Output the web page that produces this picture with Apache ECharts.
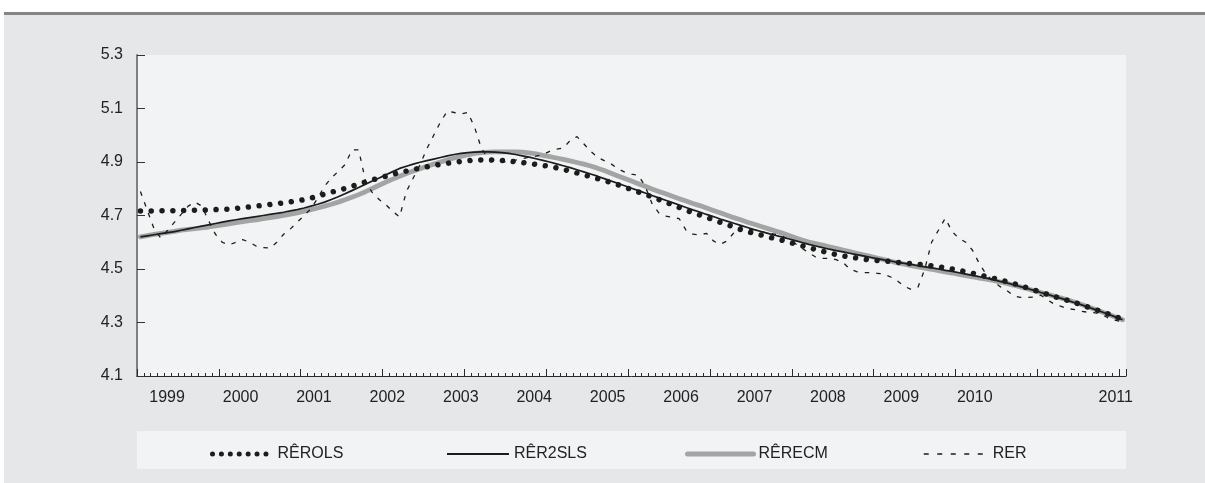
<!DOCTYPE html>
<html><head><meta charset="utf-8">
<script src="https://cdn.jsdelivr.net/npm/echarts@6/dist/echarts.min.js"></script>
<style>
html,body{margin:0;padding:0;background:#fff;}
#wrap{position:relative;width:1205px;height:483px;overflow:hidden;}
#rule{position:absolute;left:4px;top:12px;width:1201px;height:3px;background:#858585;}
#panel{position:absolute;left:4px;top:15px;width:1201px;height:468px;background:#e6e7e9;}
#legbox{position:absolute;left:137px;top:431px;width:989px;height:38px;background:#f2f3f5;}
#c{position:absolute;left:0;top:0;width:1205px;height:483px;}
</style>
</head><body>
<div id="wrap"><div id="rule"></div><div id="panel"></div><div id="legbox"></div><div id="c"></div></div>
<script>
// monthly observations, Jan 1999 .. Jan 2011
const firstYear = 1999;
const nObs = 145;
const months = [];
for (let k = 0; k < nObs; k++) {
  const y = firstYear + Math.floor(k / 12);
  const m = (k % 12) + 1;
  months.push(y + '-' + (m < 10 ? '0' + m : '' + m));
}
// year tick labels and where they sit on the (year) label scale
const yearLabels = ['1999','2000','2001','2002','2003','2004','2005','2006','2007','2008','2009','2010','2011'];
const yearLabelAt = [1999,2000,2001,2002,2003,2004,2005,2006,2007,2008,2009,2010,2011.92];
const yTickValues = [4.1, 4.3, 4.5, 4.7, 4.9, 5.1, 5.3];

const rerOLS = [
4.717,4.717,4.717,4.718,4.718,4.718,4.719,4.719,4.720,4.720,
4.721,4.722,4.723,4.724,4.727,4.729,4.732,4.735,4.738,4.741,
4.744,4.747,4.751,4.755,4.759,4.765,4.772,4.780,4.787,4.794,
4.801,4.809,4.817,4.825,4.833,4.840,4.847,4.854,4.860,4.866,
4.872,4.877,4.882,4.887,4.891,4.895,4.899,4.902,4.905,4.907,
4.908,4.908,4.907,4.906,4.904,4.901,4.898,4.895,4.891,4.887,
4.884,4.878,4.872,4.866,4.859,4.852,4.845,4.838,4.831,4.823,
4.815,4.806,4.797,4.788,4.779,4.770,4.760,4.750,4.740,4.730,
4.720,4.711,4.702,4.693,4.684,4.675,4.666,4.657,4.648,4.640,
4.633,4.627,4.620,4.614,4.608,4.601,4.594,4.587,4.580,4.573,
4.566,4.560,4.554,4.549,4.545,4.541,4.537,4.534,4.532,4.530,
4.528,4.525,4.522,4.520,4.518,4.515,4.512,4.509,4.504,4.500,
4.495,4.490,4.484,4.478,4.472,4.466,4.460,4.453,4.446,4.438,
4.430,4.422,4.413,4.405,4.397,4.390,4.382,4.374,4.366,4.357,
4.349,4.340,4.331,4.322,4.312];

const rer2SLS = [
4.620,4.624,4.628,4.632,4.636,4.640,4.645,4.650,4.655,4.660,
4.665,4.670,4.675,4.680,4.684,4.688,4.692,4.696,4.700,4.704,
4.708,4.712,4.717,4.722,4.728,4.735,4.742,4.750,4.760,4.770,
4.781,4.793,4.805,4.817,4.829,4.840,4.852,4.864,4.876,4.884,
4.892,4.899,4.905,4.911,4.917,4.923,4.928,4.932,4.935,4.937,
4.938,4.938,4.937,4.935,4.932,4.928,4.923,4.918,4.912,4.906,
4.900,4.893,4.886,4.879,4.871,4.863,4.855,4.847,4.838,4.829,
4.820,4.811,4.802,4.793,4.784,4.775,4.766,4.757,4.748,4.739,
4.730,4.721,4.713,4.704,4.696,4.687,4.679,4.671,4.663,4.655,
4.647,4.640,4.633,4.626,4.620,4.613,4.606,4.599,4.592,4.586,
4.580,4.574,4.569,4.564,4.559,4.554,4.549,4.544,4.539,4.534,
4.530,4.525,4.521,4.517,4.512,4.508,4.504,4.500,4.495,4.491,
4.486,4.481,4.476,4.471,4.466,4.460,4.454,4.448,4.441,4.434,
4.427,4.420,4.412,4.405,4.397,4.390,4.382,4.374,4.366,4.357,
4.348,4.339,4.330,4.320,4.310];

const rerECM = [
4.620,4.625,4.629,4.633,4.637,4.641,4.645,4.648,4.651,4.654,
4.657,4.661,4.665,4.669,4.673,4.677,4.681,4.684,4.688,4.692,
4.696,4.700,4.705,4.710,4.716,4.722,4.728,4.735,4.742,4.750,
4.759,4.768,4.778,4.789,4.801,4.813,4.825,4.836,4.847,4.857,
4.866,4.875,4.884,4.892,4.900,4.908,4.915,4.921,4.927,4.932,
4.935,4.937,4.938,4.938,4.938,4.938,4.937,4.934,4.930,4.925,
4.920,4.915,4.910,4.904,4.898,4.892,4.885,4.877,4.868,4.858,
4.848,4.838,4.829,4.819,4.809,4.799,4.790,4.781,4.772,4.763,
4.754,4.745,4.737,4.728,4.719,4.710,4.701,4.692,4.684,4.675,
4.667,4.659,4.651,4.643,4.635,4.626,4.617,4.608,4.601,4.595,
4.589,4.583,4.577,4.571,4.565,4.559,4.553,4.547,4.541,4.535,
4.529,4.523,4.518,4.513,4.508,4.503,4.499,4.494,4.489,4.485,
4.480,4.475,4.471,4.466,4.462,4.457,4.452,4.446,4.440,4.433,
4.426,4.419,4.412,4.405,4.398,4.391,4.384,4.376,4.367,4.358,
4.349,4.339,4.330,4.320,4.310];

const rerActual = [
4.790,4.720,4.650,4.615,4.645,4.675,4.705,4.735,4.750,4.735,
4.680,4.630,4.600,4.590,4.600,4.610,4.600,4.585,4.580,4.578,
4.600,4.630,4.650,4.675,4.700,4.725,4.765,4.810,4.840,4.865,
4.890,4.945,4.945,4.830,4.785,4.760,4.740,4.715,4.695,4.790,
4.840,4.890,4.950,5.000,5.050,5.090,5.085,5.080,5.085,5.030,
4.950,4.915,4.905,4.900,4.902,4.907,4.912,4.918,4.922,4.928,
4.940,4.948,4.952,4.980,4.995,4.968,4.940,4.918,4.905,4.893,
4.875,4.862,4.855,4.850,4.810,4.745,4.710,4.698,4.693,4.688,
4.645,4.630,4.628,4.633,4.605,4.592,4.605,4.635,4.660,4.650,
4.645,4.640,4.635,4.630,4.625,4.610,4.595,4.578,4.560,4.545,
4.540,4.540,4.535,4.525,4.500,4.490,4.487,4.486,4.484,4.481,
4.470,4.455,4.435,4.424,4.432,4.500,4.600,4.645,4.690,4.640,
4.615,4.600,4.570,4.520,4.480,4.455,4.435,4.420,4.400,4.394,
4.394,4.395,4.402,4.385,4.368,4.360,4.352,4.348,4.342,4.338,
4.336,4.330,4.315,4.308,4.303];

const FONT = '"Liberation Sans", Arial, sans-serif';
const INK = '#1c1c1c';
const GREY = '#a4a4a4';

const chart = echarts.init(document.getElementById('c'), null, {renderer: 'canvas'});

function legendAt(name, left, width, lineStyle) {
  return {
    data: [name], left: left, top: 441, itemWidth: width, itemHeight: 14,
    selectedMode: false,
    itemStyle: {opacity: 0},
    lineStyle: lineStyle,
    textStyle: {fontFamily: FONT, fontSize: 16, color: '#222'}
  };
}

chart.setOption({
  backgroundColor: 'transparent',
  animation: false,
  grid: {left: 137, right: 79, top: 55, bottom: 107, show: true,
         backgroundColor: '#f2f3f5', borderWidth: 0},
  legend: [
    legendAt('RÊROLS', 205, 60, {color: INK, width: 5, type: [0.01, 8.9], cap: 'round'}),
    legendAt('RÊR2SLS', 441, 62, {color: INK, width: 2, type: 'solid'}),
    legendAt('RÊRECM', 680, 66, {color: GREY, width: 5, type: 'solid', cap: 'round'}),
    legendAt('RER', 918, 64, {color: INK, width: 1.5, type: [5, 8.5]})
  ],
  xAxis: [{
    type: 'category', data: months, boundaryGap: true,
    axisLine: {lineStyle: {color: '#2a2a2a', width: 1}},
    axisTick: {show: true, interval: 0, inside: true, length: 3,
               lineStyle: {color: '#2a2a2a', width: 1}},
    axisLabel: {show: false},
    splitLine: {show: false}
  }, {
    type: 'category', data: months, boundaryGap: true, position: 'bottom',
    axisLine: {show: false},
    axisTick: {show: true, interval: (i, v) => v.slice(5) === '01', inside: true, length: 7,
               lineStyle: {color: '#2a2a2a', width: 1}},
    axisLabel: {show: false},
    splitLine: {show: false}
  }, {
    type: 'value', min: 1998.59, max: 2012.06, position: 'bottom',
    axisLine: {show: false}, axisTick: {show: false}, splitLine: {show: false},
    axisLabel: {
      customValues: yearLabelAt,
      formatter: v => yearLabels[yearLabelAt.indexOf(v)] || '',
      margin: 14, fontFamily: FONT, fontSize: 16, color: '#222'
    }
  }],
  yAxis: {
    type: 'value', min: 4.1, max: 5.3,
    axisLine: {show: true, lineStyle: {color: '#808080', width: 2}},
    axisTick: {show: true, inside: true, length: 8, customValues: yTickValues,
               lineStyle: {color: '#333', width: 1}},
    axisLabel: {customValues: yTickValues, formatter: v => v.toFixed(1),
                margin: 14, fontFamily: FONT, fontSize: 16, color: '#222'},
    splitLine: {show: false}
  },
  series: [{
    name: 'RÊROLS', type: 'line', data: rerOLS, symbol: 'none', z: 4,
    lineStyle: {color: INK, width: 5.5, type: [0.01, 10.8], cap: 'round'},
    itemStyle: {color: INK}
  }, {
    name: 'RÊR2SLS', type: 'line', data: rer2SLS, symbol: 'none', z: 3,
    lineStyle: {color: INK, width: 1.7},
    itemStyle: {color: INK}
  }, {
    name: 'RÊRECM', type: 'line', data: rerECM, symbol: 'none', z: 2,
    lineStyle: {color: GREY, width: 4.8, cap: 'round'},
    itemStyle: {color: GREY}
  }, {
    name: 'RER', type: 'line', data: rerActual, symbol: 'none', z: 5,
    lineStyle: {color: INK, width: 1.3, type: [4.5, 7]},
    itemStyle: {color: INK}
  }]
});
</script>
</body></html>
